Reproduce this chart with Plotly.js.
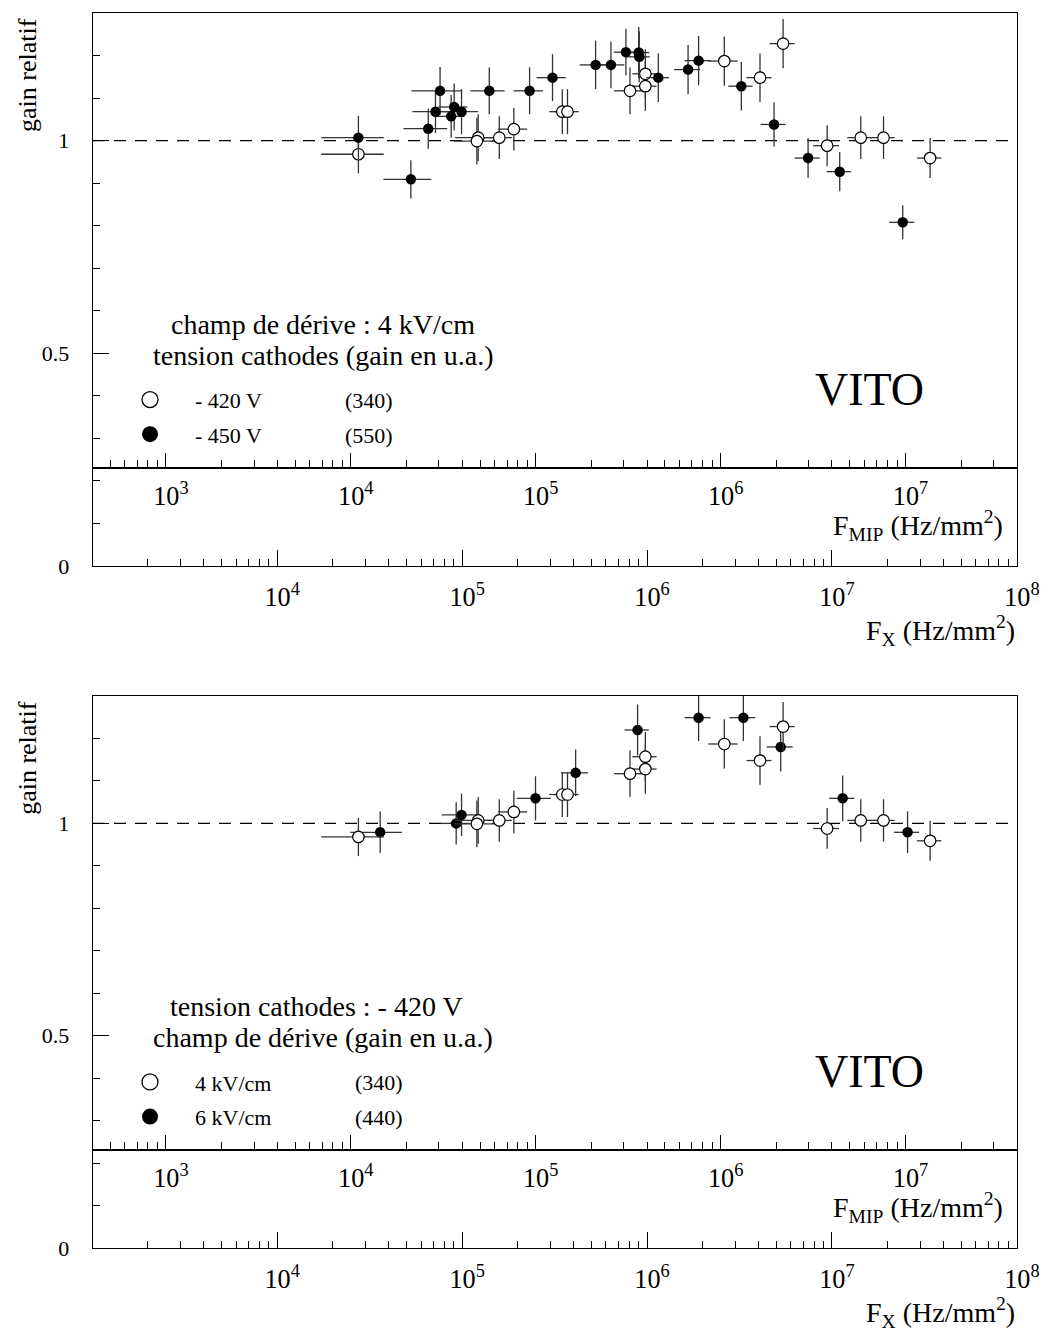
<!DOCTYPE html>
<html>
<head>
<meta charset="utf-8">
<script src="https://cdn.plot.ly/plotly-3.0.1.min.js"></script>
<style>
  html, body { margin: 0; padding: 0; background: #fff; }
  #chart { width: 1050px; height: 1332px; }
</style>
</head>
<body>
<div id="chart"></div>
<script>
// ---------- DATA (x = F_X in Hz/mm^2, y = gain relatif) ----------
// Series common to both panels: 4 kV/cm drift field, cathodes at -420 V (gain 340)
const fx420 = [27500, 122200, 120200, 158900, 190500, 348300, 371500, 809100, 979500, 979500,
               2618000, 4083000, 5445000, 9419000, 14320000, 19010000, 33960000];
const gain420 = [0.968, 1.007, 0.999, 1.007, 1.027, 1.068, 1.068, 1.117, 1.157, 1.128,
                 1.187, 1.148, 1.228, 0.988, 1.007, 1.007, 0.959];
const fxErr420 = [10200, 30500, 30000, 27000, 34300, 52200, 55700, 145600, 147000, 147000,
                  471000, 633000, 844000, 1507000, 2220000, 2850000, 5090000];
const gainErr420 = [0.045, 0.055, 0.055, 0.05, 0.05, 0.053, 0.053, 0.055, 0.058, 0.058,
                    0.058, 0.057, 0.058, 0.048, 0.05, 0.05, 0.047];

// Top panel: cathodes at -450 V (gain 550)
const fx450 = [27500, 52840, 65600, 71800, 76000, 90600, 87300, 99300, 140300, 231700,
               308300, 527200, 638300, 769100, 901600, 907800, 1150800, 1667000, 1901000,
               3236000, 4864000, 7430000, 11020000, 24150000];
const gain450 = [1.007, 0.909, 1.028, 1.068, 1.117, 1.079, 1.057, 1.068, 1.117, 1.117,
                 1.148, 1.178, 1.178, 1.208, 1.207, 1.197, 1.148, 1.167, 1.188,
                 1.128, 1.038, 0.959, 0.927, 0.808];
const fxErr450 = [10200, 15300, 17400, 18000, 22800, 16300, 15700, 22800, 29500, 41700,
                  55500, 94900, 114900, 107700, 126200, 127100, 161100, 266700, 304200,
                  485400, 754000, 1152000, 1653000, 3743000];
const gainErr450 = [0.051, 0.045, 0.047, 0.05, 0.056, 0.055, 0.05, 0.053, 0.055, 0.055,
                    0.055, 0.057, 0.055, 0.055, 0.06, 0.06, 0.057, 0.058, 0.058,
                    0.057, 0.052, 0.047, 0.046, 0.04];

// Bottom panel: drift field 6 kV/cm (gain 440)
const fx6kV = [36060, 92900, 99300, 249500, 411100, 889200, 1901000, 3319000, 5284000,
               11430000, 25650000];
const gain6kV = [0.979, 1.0, 1.02, 1.059, 1.119, 1.220, 1.249, 1.249, 1.180, 1.059, 0.979];
const fxErr6kV = [11200, 16700, 21800, 52400, 67800, 133400, 304200, 531000, 845000,
                  1772000, 3976000];
const gainErr6kV = [0.049, 0.05, 0.05, 0.052, 0.055, 0.06, 0.055, 0.055, 0.058, 0.054, 0.049];

// Texts
const topHeader = ['champ de dérive : 4 kV/cm', 'tension cathodes (gain en u.a.)'];
const topLabels = ['- 420 V', '- 450 V'];
const topGains = ['(340)', '(550)'];
const botHeader = ['tension cathodes : - 420 V', 'champ de dérive (gain en u.a.)'];
const botLabels = ['4 kV/cm', '6 kV/cm'];
const botGains = ['(340)', '(440)'];
const detName = 'VITO';
const yTitle = 'gain relatif';
const fmipTitle = 'F<sub>MIP</sub> (Hz/mm<sup>2</sup>)';
const fxTitle = 'F<sub>X</sub> (Hz/mm<sup>2</sup>)';

// Axis constants
const fxLogRange = [3.004, 8.0008];
const fmipFactor = 2.5;          // F_MIP = F_X / 2.5
const yRange = [0, 1.3];
const fmipLevel = 0.232;         // gain value where the F_MIP axis is drawn

// ---------- STYLE ----------
const FONT = 'Liberation Serif, "Times New Roman", Times, serif';
const topDom = [0.55223, 1];
const botDom = [0, 0.44696];

function dataTrace(x, y, dx, dy, filled, xa, ya) {
  return {
    type: 'scatter', mode: 'markers', x: x, y: y, xaxis: xa, yaxis: ya,
    showlegend: false, hoverinfo: 'skip',
    marker: { symbol: 'circle', size: filled ? 10.5 : 11.5,
              color: filled ? '#000' : '#fff',
              line: { color: '#000', width: filled ? 0 : 1.2 } },
    error_x: { type: 'data', array: dx, symmetric: true, color: '#333', thickness: 1.3, width: 0 },
    error_y: { type: 'data', array: dy, symmetric: true, color: '#333', thickness: 1.3, width: 0 }
  };
}
function legendTrace(name, filled, xa, ya, leg, grp) {
  return {
    type: 'scatter', mode: 'markers', x: [null], y: [null], xaxis: xa, yaxis: ya,
    name: name, legend: leg, legendgroup: grp, showlegend: true,
    marker: { symbol: 'circle', size: 16, color: filled ? '#000' : '#fff',
              line: { color: '#000', width: filled ? 0 : 1.3 } }
  };
}
// empty traces that attach the secondary F_MIP axes to their panels
function axisHolder(xa, ya) {
  return { type: 'scatter', mode: 'markers', x: [null], y: [null], xaxis: xa, yaxis: ya,
           showlegend: false, hoverinfo: 'skip' };
}

const traces = [
  dataTrace(fx420, gain420, fxErr420, gainErr420, false, 'x', 'y'),
  dataTrace(fx450, gain450, fxErr450, gainErr450, true, 'x', 'y'),
  dataTrace(fx6kV, gain6kV, fxErr6kV, gainErr6kV, true, 'x2', 'y2'),
  dataTrace(fx420, gain420, fxErr420, gainErr420, false, 'x2', 'y2'),
  axisHolder('x3', 'y'),
  axisHolder('x4', 'y2'),
  legendTrace(topLabels[0], false, 'x', 'y', 'legend', 'a'),
  legendTrace(topLabels[1], true, 'x', 'y', 'legend', 'b'),
  legendTrace(botLabels[0], false, 'x2', 'y2', 'legend2', 'c'),
  legendTrace(botLabels[1], true, 'x2', 'y2', 'legend2', 'd')
];

const tickFont = { family: FONT, size: 21, color: '#000' };
function logAxis(extra) {
  return Object.assign({
    type: 'log', showgrid: false, zeroline: false,
    showline: true, linecolor: '#000', linewidth: 1.3,
    ticks: 'inside', ticklen: 16, tickwidth: 1, tickcolor: '#000',
    dtick: 1, tick0: 0, exponentformat: 'power', showexponent: 'all',
    minor: { ticks: 'inside', ticklen: 7, tickwidth: 1, tickcolor: '#000', dtick: 'D1', showgrid: false },
    tickfont: tickFont, ticklabelstandoff: 8, ticklabelshift: 5
  }, extra);
}
function yAxis(dom, anchor) {
  return {
    domain: dom, anchor: anchor, range: yRange, showgrid: false, zeroline: false,
    showline: true, linecolor: '#000', linewidth: 1.3, mirror: true,
    ticks: 'inside', ticklen: 16, tickwidth: 1, tickcolor: '#000',
    tickmode: 'linear', tick0: 0, dtick: 0.5,
    minor: { ticks: 'inside', ticklen: 7, tickwidth: 1, tickcolor: '#000', dtick: 0.1, tick0: 0, showgrid: false },
    tickfont: { family: FONT, size: 22, color: '#000' }, ticklabelstandoff: 18
  };
}
const fmipShift = Math.log10(fmipFactor);
const fmipRange = [fxLogRange[0] - fmipShift, fxLogRange[1] - fmipShift];
function fmipPos(dom) { return dom[0] + (fmipLevel - yRange[0]) / (yRange[1] - yRange[0]) * (dom[1] - dom[0]); }

function ann(text, xref, yref, x, y, size, xanchor, extra) {
  return Object.assign({ text: text, xref: xref, yref: yref, x: x, y: y, showarrow: false,
    xanchor: xanchor || 'center', yanchor: 'middle',
    font: { family: FONT, size: size, color: '#000' } }, extra || {});
}
function panelAnnotations(xr, yr, header, gains, gainX, h1x, h2x) {
  return [
    ann(header[0], xr, yr, h1x, 0.4375, 28),
    ann(header[1], xr, yr, h2x, 0.3815, 28),
    ann(gains[0], xr, yr, gainX, 0.3000, 22, 'left'),
    ann(gains[1], xr, yr, gainX, 0.2366, 22, 'left'),
    ann(detName, xr, yr, 0.8406, 0.3199, 46),
    ann(fmipTitle, xr, yr, 0.9866, 0.0737, 28, 'right'),
    ann(fxTitle, xr, yr, 1.0, -0.1164, 28, 'right'),
    ann(yTitle, 'paper', yr, -0.0703, 0.888, 26, 'center', { textangle: -90 })
  ];
}

const legendBase = {
  bgcolor: 'rgba(0,0,0,0)', borderwidth: 0, traceorder: 'grouped', tracegroupgap: 3,
  font: { family: FONT, size: 22, color: '#000' }, itemwidth: 80, itemclick: false,
  xanchor: 'left', yanchor: 'top', xref: 'paper', yref: 'paper'
};
const legendTopY = 0.3150 + 0.0235;   // fraction of panel height

const layout = {
  width: 1050, height: 1332, autosize: false,
  margin: { l: 93, r: 33, t: 13, b: 84, pad: 0 },
  paper_bgcolor: '#fff', plot_bgcolor: '#fff',
  font: { family: FONT, color: '#000' },
  showlegend: true,
  xaxis: logAxis({ anchor: 'y', range: fxLogRange, mirror: true }),
  yaxis: yAxis(topDom, 'x'),
  xaxis2: logAxis({ anchor: 'y2', range: fxLogRange, mirror: true }),
  yaxis2: yAxis(botDom, 'x2'),
  xaxis3: logAxis({ overlaying: 'x', anchor: 'free', position: fmipPos(topDom), side: 'bottom',
                    range: fmipRange, ticklen: 14, ticklabelstandoff: 6 }),
  xaxis4: logAxis({ overlaying: 'x2', anchor: 'free', position: fmipPos(botDom), side: 'bottom',
                    range: fmipRange, ticklen: 14, ticklabelstandoff: 6 }),
  legend: Object.assign({}, legendBase, { x: 0.013, y: topDom[0] + legendTopY * (topDom[1] - topDom[0]) }),
  legend2: Object.assign({}, legendBase, { x: 0.013, y: botDom[0] + legendTopY * (botDom[1] - botDom[0]) }),
  shapes: [
    { type: 'line', xref: 'x domain', yref: 'y', x0: 0, x1: 1, y0: 1, y1: 1, layer: 'below',
      line: { color: '#000', width: 1.3, dash: '12px,9px' } },
    { type: 'line', xref: 'x2 domain', yref: 'y2', x0: 0, x1: 1, y0: 1, y1: 1, layer: 'below',
      line: { color: '#000', width: 1.3, dash: '12px,9px' } }
  ],
  annotations: [].concat(
    panelAnnotations('x domain', 'y domain', topHeader, topGains, 0.2702, 0.2486, 0.2497),
    panelAnnotations('x2 domain', 'y2 domain', botHeader, botGains, 0.2810, 0.2421, 0.2486)
  )
};

Plotly.newPlot('chart', traces, layout, { staticPlot: true, displayModeBar: false });
</script>
</body>
</html>
